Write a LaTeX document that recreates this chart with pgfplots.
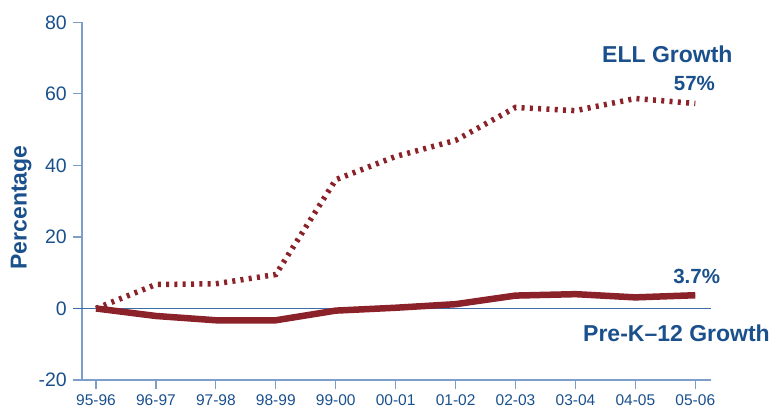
\documentclass[border=0pt]{standalone}
\usepackage{pgfplots}
\pgfplotsset{compat=1.18}
\usepackage{fontspec}
\setmainfont{Liberation Sans}

\definecolor{txtblue}{RGB}{26,80,140}
\definecolor{axisblue}{RGB}{125,158,200}
\definecolor{zeroblue}{RGB}{60,110,170}
\definecolor{ellred}{RGB}{139,33,41}

\begin{document}
\begin{tikzpicture}[x=1bp,y=1bp]
\useasboundingbox (-82,-29) rectangle (690,380);
\begin{axis}[
    at={(0,0)}, anchor=south west,
    scale only axis, width=628.7bp, height=357.7bp,
    xmin=-0.234, xmax=10.257, ymin=-20, ymax=80,
    axis lines*=left, clip=false,
    axis line style={draw=axisblue, line width=1.2bp},
    tick style={draw=axisblue, line width=1.2bp},
    tick align=outside, major tick length=9bp,
    xtick={0,...,10},
    xticklabels={95-96,96-97,97-98,98-99,99-00,00-01,01-02,02-03,03-04,04-05,05-06},
    ytick={-20,0,20,40,60,80},
    /pgf/number format/assume math mode=true,
    xticklabel style={font=\fontsize{15.5bp}{18bp}\selectfont, text=txtblue,
        anchor=north, inner sep=0pt, yshift=-5bp},
    yticklabel style={font=\fontsize{19.5bp}{23bp}\selectfont, text=txtblue,
        anchor=east, inner sep=0pt, xshift=-6bp},
]
\draw[zeroblue, line width=1.2bp] (axis cs:-0.384,0) -- (axis cs:10.257,0);

% ELL growth (dotted)
\addplot[ellred, line width=5.5bp, line cap=butt, dash pattern=on 3bp off 5.3bp]
  coordinates {(0,0) (1,6.7) (2,6.9) (3,9.5) (4,36) (5,42.5) (6,47) (7,56.2) (8,55.3) (9,58.7) (10,57.3)};

% Pre-K-12 growth (solid)
\addplot[ellred, line width=6.5bp, line join=round]
  coordinates {(0,0) (1,-2.1) (2,-3.3) (3,-3.3) (4,-0.6) (5,0.2) (6,1.2) (7,3.6) (8,4.0) (9,3.1) (10,3.7)};

\node[anchor=base west, inner sep=0pt, text=txtblue, font=\fontsize{23bp}{27bp}\selectfont\bfseries]
  at (axis cs:8.443,68.9) {ELL Growth};
\node[anchor=base east, inner sep=0pt, text=txtblue, font=\fontsize{20.5bp}{24bp}\selectfont\bfseries]
  at (axis cs:10.33,60.8) {57\%};
\node[anchor=base west, inner sep=0pt, text=txtblue, font=\fontsize{20.5bp}{24bp}\selectfont\bfseries]
  at (axis cs:9.63,7.1) {3.7\%};
\node[anchor=base west, inner sep=0pt, text=txtblue, font=\fontsize{23bp}{27bp}\selectfont\bfseries]
  at (axis cs:8.126,-9.27) {Pre-K–12 Growth};
\node[rotate=90, inner sep=0pt, text=txtblue, font=\fontsize{23bp}{27bp}\selectfont\bfseries]
  at (axis cs:-1.25,28.2) {Percentage};
\end{axis}
\end{tikzpicture}
\end{document}
